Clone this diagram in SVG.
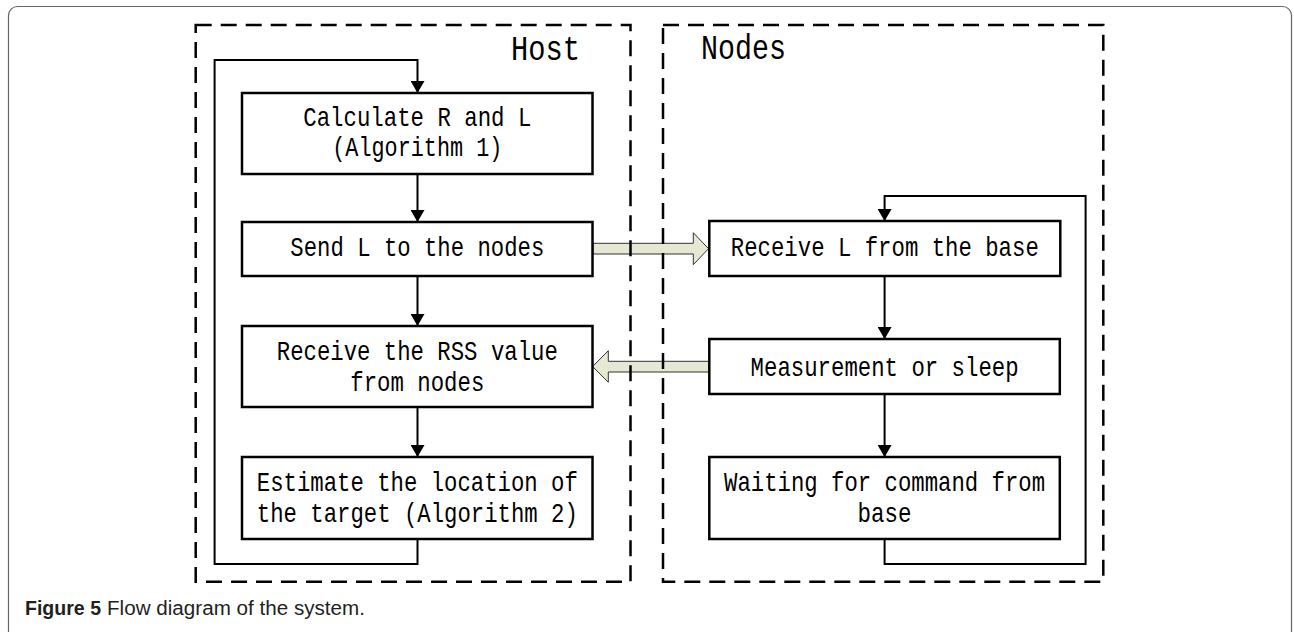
<svg xmlns="http://www.w3.org/2000/svg" width="1294" height="632" viewBox="0 0 1294 632">
<style>
.box{fill:#fff;stroke:#000;stroke-width:2.5}
.cont{fill:none;stroke:#000;stroke-width:2.5;stroke-dasharray:16 9}
.ln{fill:none;stroke:#000;stroke-width:2}
.blk{fill:#e6e8d4;stroke:#333;stroke-width:1}
.t{font-family:"Liberation Mono","DejaVu Sans Mono",monospace;font-size:28.5px;fill:#000;text-anchor:middle}
.h{font-family:"Liberation Mono","DejaVu Sans Mono",monospace;font-size:35px;fill:#000}
.cap{font-family:"Liberation Sans",Arial,sans-serif;font-size:20px;fill:#231f20}
</style>
<defs>
<marker id="ah" viewBox="0 0 12 14" markerWidth="12" markerHeight="14" refX="12" refY="7" orient="auto" markerUnits="userSpaceOnUse"><path d="M0,0 L12,7 L0,14 z" fill="#000"/></marker>
</defs>
<rect x="8.5" y="6.5" width="1283" height="700" rx="9" fill="none" stroke="#666" stroke-width="1.2"/>
<g id="connectors">
<polygon class="blk" points="593,243.3 693.3,243.3 693.3,232.7 708.5,248.7 693.3,264.7 693.3,254 593,254"/>
<polygon class="blk" points="709.3,361.3 608.3,361.3 608.3,350.7 592.6,366.5 608.3,382.3 608.3,372 709.3,372"/>
<path class="ln" d="M417.5,539 V564 H214.6 V60 H417.5 V93" marker-end="url(#ah)"/>
<path class="ln" d="M417.5,174 V222" marker-end="url(#ah)"/>
<path class="ln" d="M417.5,276 V326" marker-end="url(#ah)"/>
<path class="ln" d="M417.5,407 V457" marker-end="url(#ah)"/>
<path class="ln" d="M884.6,539 V564 H1085.6 V196 H884.6 V221" marker-end="url(#ah)"/>
<path class="ln" d="M884.6,276 V339" marker-end="url(#ah)"/>
<path class="ln" d="M884.6,394 V457" marker-end="url(#ah)"/>
</g>
<g id="host">
<rect class="cont" x="195.7" y="25" width="434.8" height="556.7"/>
<text class="h" x="511" y="60" textLength="69" lengthAdjust="spacingAndGlyphs">Host</text>
</g>
<g id="nodes">
<rect class="cont" x="663" y="25" width="440.3" height="556.7"/>
<text class="h" x="701" y="59" textLength="85" lengthAdjust="spacingAndGlyphs">Nodes</text>
</g>
<g id="calc">
<rect class="box" x="242" y="93" width="350.5" height="81"/>
<text class="t" x="417.3" y="126" textLength="228" lengthAdjust="spacingAndGlyphs">Calculate R and L</text>
<text class="t" x="417.3" y="156" textLength="170" lengthAdjust="spacingAndGlyphs">(Algorithm 1)</text>
</g>
<g id="send">
<rect class="box" x="242" y="222" width="350.5" height="54"/>
<text class="t" x="417.3" y="256" textLength="254" lengthAdjust="spacingAndGlyphs">Send L to the nodes</text>
</g>
<g id="receiveRSS">
<rect class="box" x="242" y="326" width="350.5" height="81"/>
<text class="t" x="417.3" y="360" textLength="281" lengthAdjust="spacingAndGlyphs">Receive the RSS value</text>
<text class="t" x="417.3" y="391" textLength="134" lengthAdjust="spacingAndGlyphs">from nodes</text>
</g>
<g id="estimate">
<rect class="box" x="242" y="457" width="350.5" height="82"/>
<text class="t" x="417.3" y="491" textLength="321" lengthAdjust="spacingAndGlyphs">Estimate the location of</text>
<text class="t" x="417.3" y="522" textLength="321" lengthAdjust="spacingAndGlyphs">the target (Algorithm 2)</text>
</g>
<g id="receiveL">
<rect class="box" x="709.3" y="221" width="351" height="55"/>
<text class="t" x="884.8" y="256" textLength="308" lengthAdjust="spacingAndGlyphs">Receive L from the base</text>
</g>
<g id="measure">
<rect class="box" x="709.3" y="339" width="350.5" height="55"/>
<text class="t" x="884.6" y="376" textLength="268" lengthAdjust="spacingAndGlyphs">Measurement or sleep</text>
</g>
<g id="waiting">
<rect class="box" x="709.3" y="457" width="350.5" height="82"/>
<text class="t" x="884.6" y="491" textLength="321" lengthAdjust="spacingAndGlyphs">Waiting for command from</text>
<text class="t" x="884.6" y="522" textLength="54" lengthAdjust="spacingAndGlyphs">base</text>
</g>
<g id="caption">
<text class="cap" x="25" y="615" font-weight="bold" textLength="76" lengthAdjust="spacingAndGlyphs">Figure 5</text>
<text class="cap" x="107" y="615" textLength="258" lengthAdjust="spacingAndGlyphs">Flow diagram of the system.</text>
</g>
</svg>
